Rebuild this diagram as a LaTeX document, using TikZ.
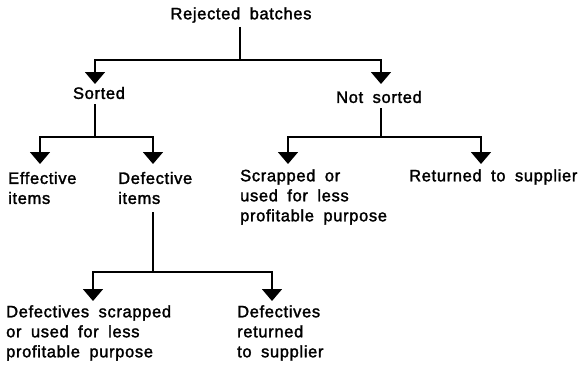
\documentclass[tikz,border=0pt]{standalone}
\usepackage{fontspec}
\setmainfont{Liberation Sans}[LetterSpace=4, WordSpace=1.8, FakeBold=1.8]
\usetikzlibrary{arrows.meta}
\begin{document}
\begin{tikzpicture}[x=1pt,y=-1pt,
  lbl/.style={inner sep=0pt, align=left, font=\fontsize{16.5}{20}\selectfont},
  conn/.style={line width=1.7pt},
  arr/.style={conn, -{Triangle[width=20pt,length=12pt]}}]
\useasboundingbox (0,0) rectangle (582,365);
% nodes
\node[lbl] (rb) at (241,15) {Rejected batches};
\node[lbl] (so) at (99,93) {Sorted};
\node[lbl] (ns) at (379,97) {Not sorted};
\node[lbl,anchor=west] (ef) at (8,188) {Effective\\items};
\node[lbl,anchor=west] (de) at (118,188) {Defective\\items};
\node[lbl,anchor=west] (sc) at (240,197) {Scrapped or\\used for less\\profitable purpose};
\node[lbl,anchor=west] (rs) at (409,177) {Returned to supplier};
\node[lbl,anchor=west] (ds) at (6,333) {Defectives scrapped\\or used for less\\profitable purpose};
\node[lbl,anchor=west] (dr) at (237,333) {Defectives\\returned\\to supplier};
% junctions and arrow ends
\coordinate (j1) at (240,60);
\coordinate (j2) at (95,137);
\coordinate (j3) at (381,137);
\coordinate (j4) at (153,272);
\coordinate (t-so) at (95,84);
\coordinate (t-ns) at (381,84);
\coordinate (t-ef) at (40,164);
\coordinate (t-de) at (153,164);
\coordinate (t-sc) at (288,164);
\coordinate (t-rs) at (481,164);
\coordinate (t-ds) at (93,301);
\coordinate (t-dr) at (272,301);
% connectors
\draw[conn] (rb.south -| j1) ++(0,4) -- (j1);
\draw[arr] (j1) -| (t-so);
\draw[arr] (j1) -| (t-ns);
\draw[conn] ([yshift=-5pt]so.south -| j2) -- (j2);
\draw[arr] (j2) -| (t-ef);
\draw[arr] (j2) -| (t-de);
\draw[conn] ([yshift=-5pt]ns.south -| j3) -- (j3);
\draw[arr] (j3) -| (t-sc);
\draw[arr] (j3) -| (t-rs);
\draw[conn] ([yshift=-8pt]de.south -| j4) -- (j4);
\draw[arr] (j4) -| (t-ds);
\draw[arr] (j4) -| (t-dr);
\end{tikzpicture}
\end{document}
